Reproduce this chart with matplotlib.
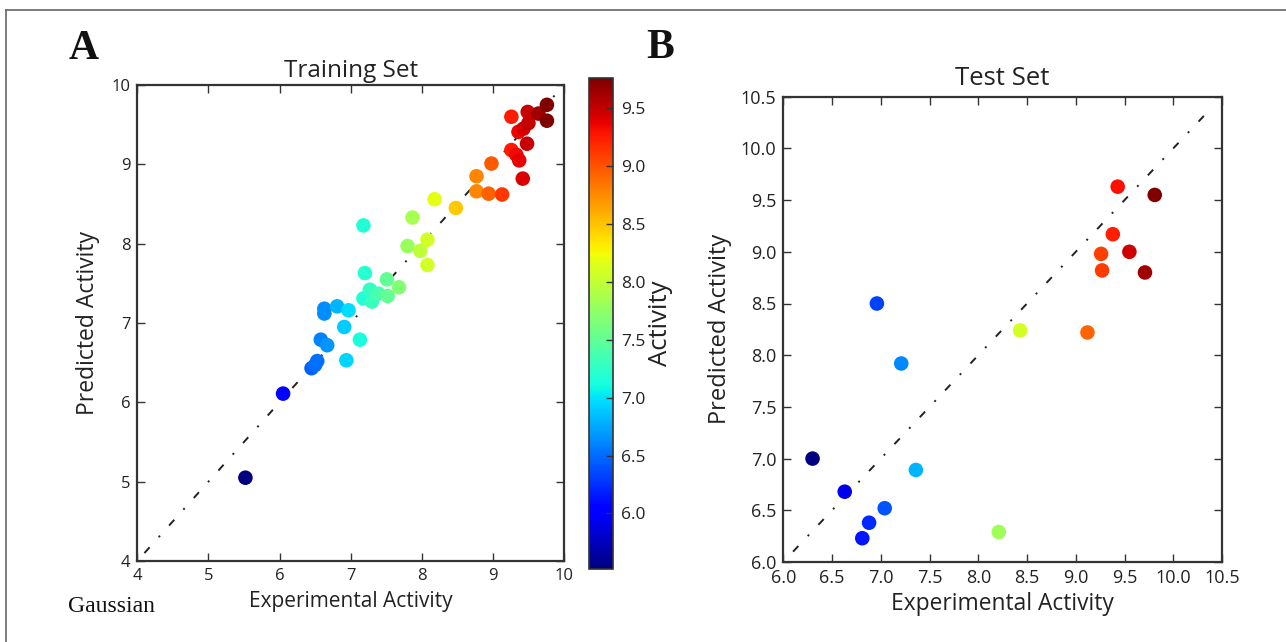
import matplotlib
matplotlib.use("Agg")
import matplotlib.pyplot as plt
from matplotlib.lines import Line2D

# ---- Training set data (experimental, predicted) ----
train_exp = [5.52, 6.05, 6.45, 6.50, 6.53, 6.58, 6.67, 6.63, 6.63, 6.81, 6.97, 6.91,
             7.13, 6.94, 7.18, 7.20, 7.18, 7.27, 7.30, 7.39, 7.51, 7.52, 7.68,
             7.80, 7.87, 7.98, 8.08, 8.08, 8.18, 8.48, 8.77, 8.77, 8.94, 9.13,
             8.98, 9.26, 9.26, 9.33, 9.37, 9.36, 9.43, 9.48, 9.49, 9.50, 9.42,
             9.64, 9.76, 9.76]
train_pred = [5.05, 6.11, 6.43, 6.47, 6.52, 6.79, 6.72, 7.18, 7.12, 7.21, 7.16, 6.95,
              6.79, 6.53, 8.23, 7.63, 7.31, 7.42, 7.27, 7.37, 7.55, 7.34, 7.45,
              7.97, 8.33, 7.91, 8.05, 7.73, 8.56, 8.45, 8.85, 8.66, 8.63, 8.62,
              9.01, 9.60, 9.18, 9.12, 9.05, 9.41, 9.45, 9.26, 9.66, 9.52, 8.82,
              9.64, 9.75, 9.55]

# ---- Test set data ----
test_exp = [6.30, 6.63, 6.81, 6.88, 7.04, 6.96, 7.21, 7.36, 8.21, 8.43, 9.12,
            9.26, 9.27, 9.38, 9.43, 9.55, 9.71, 9.81]
test_pred = [7.00, 6.68, 6.23, 6.38, 6.52, 8.50, 7.92, 6.89, 6.29, 8.24, 8.22,
             8.98, 8.82, 9.17, 9.63, 9.00, 8.80, 9.55]

train_xticks = [4, 5, 6, 7, 8, 9, 10]
train_yticks = [4, 5, 6, 7, 8, 9, 10]
test_ticks = [6.0, 6.5, 7.0, 7.5, 8.0, 8.5, 9.0, 9.5, 10.0, 10.5]
cbar_ticks = [6.0, 6.5, 7.0, 7.5, 8.0, 8.5, 9.0, 9.5]

plt.rcParams['font.family'] = ['Open Sans', 'DejaVu Sans']
W, H = 1286, 642
fig = plt.figure(figsize=(W / 100, H / 100), dpi=100)

spine_c = '#333333'
text_c = '#222222'

def style_axes(ax, fs):
    for s in ax.spines.values():
        s.set_linewidth(1.6)
        s.set_color(spine_c)
    ax.tick_params(direction='in', length=6, width=1.0, color=spine_c,
                   top=True, right=True, labelsize=fs, labelcolor=text_c, pad=5)

# ---- Panel A ----
axA = fig.add_axes([137.3 / W, 1 - 561 / H, 426.7 / W, 476 / H])
axA.plot([4.1, 9.95], [4.1, 9.95], color='#222222', lw=1.4,
         linestyle=(0, (4, 7, 1, 7)))
scA = axA.scatter(train_exp, train_pred, c=train_exp, cmap='jet', s=110,
                  linewidths=0, zorder=3)
axA.set_xlim(4, 10)
axA.set_ylim(4, 10)
axA.set_xticks(train_xticks)
axA.set_yticks(train_yticks)
style_axes(axA, 12)
axA.set_title('Training Set', fontsize=17.5, color=text_c, pad=6)
axA.set_xlabel('Experimental Activity', fontsize=15, color=text_c, labelpad=5)
axA.set_ylabel('Predicted Activity', fontsize=16.5, color=text_c, labelpad=8)

cax = fig.add_axes([589.3 / W, 1 - 569 / H, 23.4 / W, 490.7 / H])
cb = fig.colorbar(scA, cax=cax)
cb.set_ticks(cbar_ticks)
cb.ax.tick_params(direction='in', length=5, width=1.0, color='#333333',
                  labelsize=12.5, labelcolor=text_c, pad=6)
cb.outline.set_linewidth(1.2)
cb.outline.set_edgecolor(spine_c)
cb.set_label('Activity', fontsize=18.5, color=text_c, labelpad=2)

# ---- Panel B ----
axB = fig.add_axes([783.3 / W, 1 - 562 / H, 438.7 / W, 465.3 / H])
axB.plot([6.1, 10.4], [6.1, 10.4], color='#222222', lw=1.4,
         linestyle=(0, (4, 7, 1, 7)))
axB.scatter(test_exp, test_pred, c=test_exp, cmap='jet', s=110,
            linewidths=0, zorder=3)
axB.set_xlim(6.0, 10.5)
axB.set_ylim(6.0, 10.5)
axB.set_xticks(test_ticks)
axB.set_yticks(test_ticks)
axB.set_xticklabels([f'{t:.1f}' for t in test_ticks])
axB.set_yticklabels([f'{t:.1f}' for t in test_ticks])
style_axes(axB, 13)
axB.set_title('Test Set', fontsize=18.5, color=text_c, pad=8.5)
axB.set_xlabel('Experimental Activity', fontsize=16.4, color=text_c, labelpad=4)
axB.set_ylabel('Predicted Activity', fontsize=17, color=text_c, labelpad=6)

# ---- Panel letters and note ----
serif = ['Liberation Serif', 'DejaVu Serif']
fig.text(84 / W, 1 - 49 / H, 'A', fontsize=30, fontweight='bold',
         family=serif, ha='center', va='center', color='#111111')
fig.text(660 / W, 1 - 48 / H, 'B', fontsize=30, fontweight='bold',
         family=serif, ha='center', va='center', color='#111111')
fig.text(68 / W, 1 - 606 / H, 'Gaussian', fontsize=17, family=serif,
         ha='left', va='center', color='#111111')

# ---- partial outer frame (top and left edges) ----
fig.add_artist(Line2D([6 / W, 1.0], [1 - 10 / H, 1 - 10 / H],
                      transform=fig.transFigure, color='#666666', lw=1.2))
fig.add_artist(Line2D([6 / W, 6 / W], [0.0, 1 - 10 / H],
                      transform=fig.transFigure, color='#666666', lw=1.2))

fig.savefig('out.png', dpi=100)
